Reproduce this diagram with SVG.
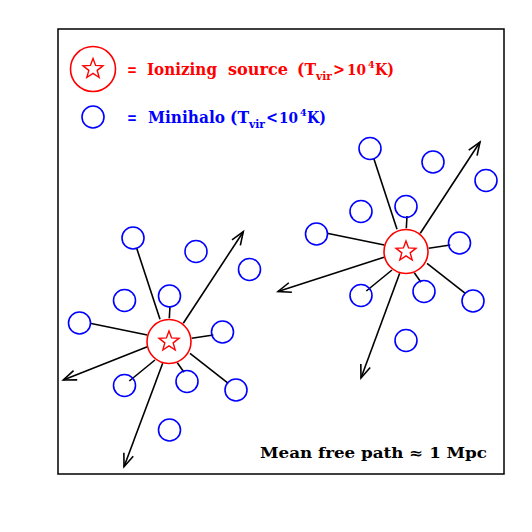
<svg xmlns="http://www.w3.org/2000/svg" xmlns:xlink="http://www.w3.org/1999/xlink" width="532" height="532" viewBox="0 0 532 532">
<style>
.frame{fill:none;stroke:#000;stroke-width:1.5}
.src{fill:none;stroke:#ff0000;stroke-width:1.6}
.star{fill:none;stroke:#ff0000;stroke-width:1.4;stroke-linejoin:miter}
.halo{fill:none;stroke:#0000ff;stroke-width:1.6}
.link{stroke:#000;stroke-width:1.6;fill:none}
.ray{stroke:#000;stroke-width:1.6;fill:none;marker-end:url(#arr)}
.t{font-family:"DejaVu Serif","Liberation Serif",serif;font-weight:bold}
.red{fill:#ff0000}
.blue{fill:#0000ff}
</style>
<defs>
<path id="star" d="M0,-10.5 L2.59,-3.56 L9.99,-3.25 L4.18,1.36 L6.17,8.5 L0,4.4 L-6.17,8.5 L-4.18,1.36 L-9.99,-3.25 L-2.59,-3.56 Z"/>
<marker id="arr" markerUnits="userSpaceOnUse" markerWidth="20" markerHeight="20" viewBox="-16 -10 20 20" refX="0" refY="0" orient="auto">
<path d="M-13,-5 L0,0 L-13,5" fill="none" stroke="#000" stroke-width="1.6"/>
</marker>
</defs>
<rect class="frame" x="58" y="29" width="446" height="445"/>
<g id="legend">
<g id="legend-source"><circle class="src" cx="93" cy="69" r="22.5"/><use href="#star" class="star" x="93" y="69"/></g>
<g id="legend-halo"><circle class="halo" cx="93" cy="117" r="11"/></g>
<text class="t red" font-size="16"><tspan x="127" y="75" textLength="10" lengthAdjust="spacingAndGlyphs">=</tspan><tspan x="147" y="75" textLength="70" lengthAdjust="spacingAndGlyphs">Ionizing</tspan><tspan x="228" y="75" textLength="60" lengthAdjust="spacingAndGlyphs">source</tspan><tspan x="297" y="75" textLength="19" lengthAdjust="spacingAndGlyphs">(T</tspan><tspan x="316" y="80" font-size="10.5" textLength="16" lengthAdjust="spacingAndGlyphs">vir</tspan><tspan x="333" y="75" textLength="12" lengthAdjust="spacingAndGlyphs">&gt;</tspan><tspan x="347" y="75" font-size="14.5" textLength="19" lengthAdjust="spacingAndGlyphs">10</tspan><tspan x="368" y="67.5" font-size="9.5">4</tspan><tspan x="375" y="75" textLength="19" lengthAdjust="spacingAndGlyphs">K)</tspan></text>
<text class="t blue" font-size="16"><tspan x="127" y="123" textLength="10" lengthAdjust="spacingAndGlyphs">=</tspan><tspan x="148" y="123" textLength="77" lengthAdjust="spacingAndGlyphs">Minihalo</tspan><tspan x="230" y="123" textLength="19" lengthAdjust="spacingAndGlyphs">(T</tspan><tspan x="249" y="128" font-size="10.5" textLength="16" lengthAdjust="spacingAndGlyphs">vir</tspan><tspan x="266" y="123" textLength="12" lengthAdjust="spacingAndGlyphs">&lt;</tspan><tspan x="279" y="123" font-size="14.5" textLength="19" lengthAdjust="spacingAndGlyphs">10</tspan><tspan x="300" y="115.5" font-size="9.5">4</tspan><tspan x="307" y="123" textLength="19" lengthAdjust="spacingAndGlyphs">K)</tspan></text>
</g>
<g id="connectors">
<line class="link" x1="160" y1="319.3" x2="136.7" y2="248.3"/>
<line class="link" x1="169.3" y1="318.3" x2="170" y2="306"/>
<line class="link" x1="147.3" y1="335" x2="90" y2="323.3"/>
<line class="link" x1="191.7" y1="338.3" x2="213.3" y2="335"/>
<line class="link" x1="155" y1="360" x2="129.3" y2="381"/>
<line class="link" x1="177.3" y1="362.7" x2="184" y2="372.3"/>
<line class="link" x1="190" y1="353.3" x2="228.3" y2="383.3"/>
<line class="ray" x1="183.3" y1="323.3" x2="243.3" y2="231.7"/>
<line class="ray" x1="147.3" y1="346.7" x2="63.3" y2="380"/>
<line class="ray" x1="162.7" y1="363.3" x2="124" y2="466.7"/>
<line class="link" x1="397" y1="229.3" x2="373.7" y2="158.3"/>
<line class="link" x1="406.3" y1="228.3" x2="407" y2="216"/>
<line class="link" x1="384.3" y1="245" x2="327" y2="233.3"/>
<line class="link" x1="428.7" y1="248.3" x2="450.3" y2="245"/>
<line class="link" x1="392" y1="270" x2="366.3" y2="291"/>
<line class="link" x1="414.3" y1="272.7" x2="421" y2="282.3"/>
<line class="link" x1="427" y1="263.3" x2="465.3" y2="293.3"/>
<line class="ray" x1="420.3" y1="233.3" x2="480" y2="142"/>
<line class="ray" x1="384" y1="257.3" x2="278" y2="291.5"/>
<line class="ray" x1="399.7" y1="273.3" x2="361" y2="378"/>
</g>
<g id="source-1"><circle class="src" cx="169" cy="341.5" r="22"/><use href="#star" class="star" x="169" y="341.5"/></g>
<g id="source-2"><circle class="src" cx="406" cy="251.5" r="22"/><use href="#star" class="star" x="406" y="251.5"/></g>
<g id="halos-1">
<circle id="h1a" class="halo" cx="133" cy="238" r="11"/>
<circle id="h1b" class="halo" cx="196" cy="251.5" r="11"/>
<circle id="h1c" class="halo" cx="249.5" cy="269.5" r="11"/>
<circle id="h1d" class="halo" cx="124.5" cy="300.5" r="11"/>
<circle id="h1e" class="halo" cx="169.5" cy="296" r="11"/>
<circle id="h1f" class="halo" cx="79.5" cy="323" r="11"/>
<circle id="h1g" class="halo" cx="222.5" cy="332" r="11"/>
<circle id="h1h" class="halo" cx="124.5" cy="385.5" r="11"/>
<circle id="h1i" class="halo" cx="187" cy="381.5" r="11"/>
<circle id="h1j" class="halo" cx="236" cy="390" r="11"/>
<circle id="h1k" class="halo" cx="169.5" cy="430" r="11"/>
</g>
<g id="halos-2">
<circle id="h2a" class="halo" cx="370" cy="148.5" r="11"/>
<circle id="h2b" class="halo" cx="433" cy="162" r="11"/>
<circle id="h2c" class="halo" cx="486" cy="180.5" r="11"/>
<circle id="h2d" class="halo" cx="361" cy="211.5" r="11"/>
<circle id="h2e" class="halo" cx="406" cy="206.5" r="11"/>
<circle id="h2f" class="halo" cx="316.5" cy="234" r="11"/>
<circle id="h2g" class="halo" cx="459.5" cy="243" r="11"/>
<circle id="h2h" class="halo" cx="361" cy="295.5" r="11"/>
<circle id="h2i" class="halo" cx="424" cy="291.5" r="11"/>
<circle id="h2j" class="halo" cx="473" cy="301" r="11"/>
<circle id="h2k" class="halo" cx="406" cy="340.5" r="11"/>
</g>
<text class="t" font-size="14" x="260" y="458" textLength="227" lengthAdjust="spacingAndGlyphs" fill="#000">Mean free path ≈ 1 Mpc</text>
</svg>
